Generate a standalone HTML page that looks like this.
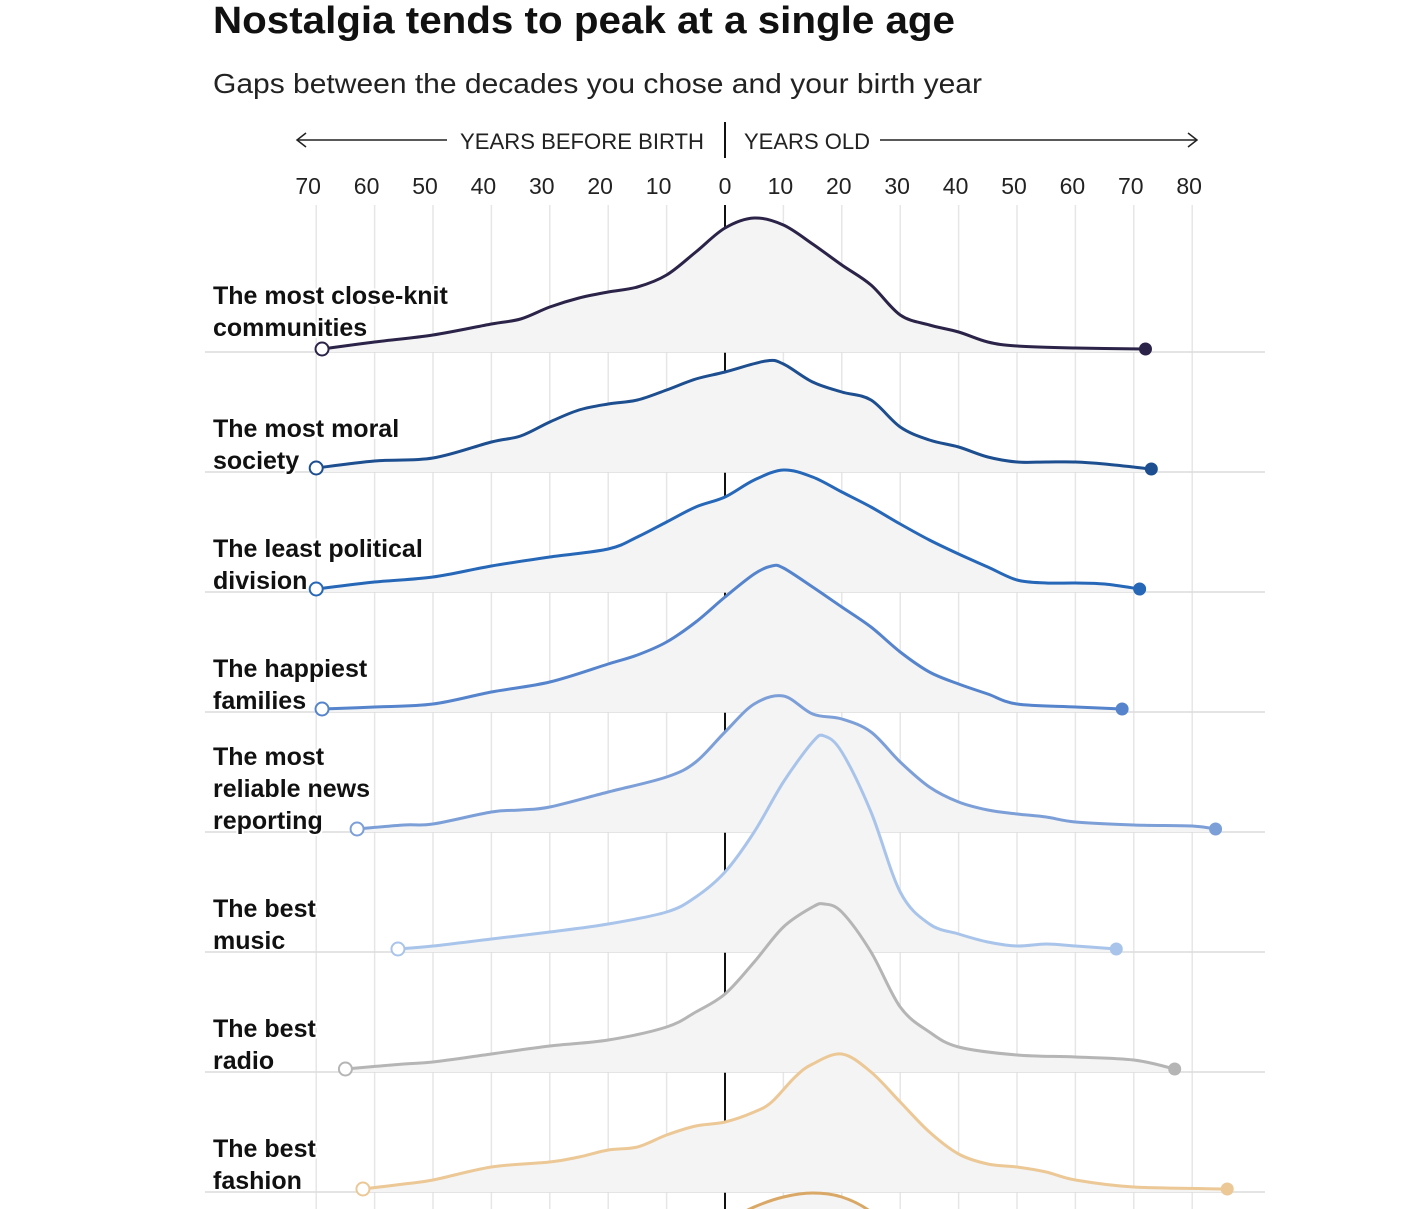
<!DOCTYPE html>
<html><head><meta charset="utf-8">
<style>
html,body{margin:0;padding:0;background:#fff;overflow:hidden;}
body{width:1417px;height:1209px;overflow:hidden;position:relative;font-family:"Liberation Sans",sans-serif;}
svg{overflow:hidden;display:block;}
</style></head>
<body>
<svg id="chart" width="1417" height="1209" xmlns="http://www.w3.org/2000/svg" style="position:absolute;left:0;top:0">
<text x="213" y="33" font-family="Liberation Sans, sans-serif" font-weight="bold" font-size="38" fill="#111" textLength="742" lengthAdjust="spacingAndGlyphs">Nostalgia tends to peak at a single age</text>
<text x="213" y="93" font-family="Liberation Sans, sans-serif" font-size="28" fill="#222" textLength="769" lengthAdjust="spacingAndGlyphs">Gaps between the decades you chose and your birth year</text>
<g id="grid"></g>
<g id="header"></g>
<g id="series"></g>
<g id="labels"></g>
</svg>
<script>
const tickValues = [-70,-60,-50,-40,-30,-20,-10,0,10,20,30,40,50,60,70,80];
const tickLabels = ["70","60","50","40","30","20","10","0","10","20","30","40","50","60","70","80"];
const rowLabels = [
 ["The most close-knit","communities"],
 ["The most moral","society"],
 ["The least political","division"],
 ["The happiest","families"],
 ["The most","reliable news","reporting"],
 ["The best","music"],
 ["The best","radio"],
 ["The best","fashion"],
 [""]
];
const colors = ["#2c2348","#1d4e8f","#2667b8","#5584cc","#7d9fd8","#a9c4ea","#b5b5b5","#ecc896","#d9a866"];
const xs1=[-69,-60,-50,-40,-35,-30,-25,-20,-15,-10,-5,0,5,10,15,20,25,30,35,40,45,50,60,72];
const ys1=[3,10,17,28,33,45,54,60,65,77,100,124,134,127,108,87,67,37,27,20,10,6,4,3];
const xs2=[-70,-60,-50,-40,-35,-30,-25,-20,-15,-10,-5,0,7,10,15,20,25,30,35,40,45,50,55,60,65,73];
const ys2=[4,11,14,30,36,50,62,68,72,82,93,100,111,108,90,80,72,45,32,25,15,10,10,10,8,3];
const xs3=[-70,-60,-50,-40,-30,-20,-15,-10,-5,0,5,10,15,20,25,30,35,40,45,50,55,60,65,71];
const ys3=[3,10,15,26,35,43,55,70,85,95,112,122,115,100,85,68,52,38,25,12,9,9,8,3];
const xs4=[-69,-60,-50,-40,-30,-20,-15,-10,-5,0,5,8,10,15,20,25,30,35,40,45,50,60,68];
const ys4=[3,5,8,20,30,48,57,70,90,115,138,146,144,125,105,85,60,40,28,18,8,5,3];
const xs5=[-63,-55,-50,-40,-35,-30,-20,-10,-5,0,5,10,15,20,25,30,35,40,45,50,55,60,70,80,84];
const ys5=[3,7,8,20,22,25,40,55,70,100,128,136,118,113,100,70,45,30,22,18,15,10,7,6,3];
const xs6=[-56,-50,-40,-30,-20,-10,-5,0,5,10,15,17,20,25,30,35,40,45,50,55,60,67];
const ys6=[3,6,13,20,28,40,55,80,120,170,210,216,200,140,60,28,18,10,6,8,6,3];
const xs7=[-65,-55,-50,-40,-30,-20,-10,-5,0,5,10,15,17,20,25,30,35,40,50,60,70,77];
const ys7=[3,8,10,18,26,32,45,60,78,110,145,165,168,160,120,65,40,25,17,15,12,3];
const xs8=[-62,-55,-50,-40,-30,-25,-20,-15,-10,-5,0,5,8,12,15,20,25,30,35,40,45,50,55,60,70,86];
const ys8=[3,8,12,25,30,35,42,45,57,66,70,80,90,115,128,138,120,90,60,38,28,25,20,12,5,3];
const xs9=[-30,-10,0,5,10,15,20,25,30,50];
const ys9=[20,60,90,105,115,119,115,100,70,10];
const seriesX=[xs1,xs2,xs3,xs4,xs5,xs6,xs7,xs8,xs9];
const seriesY=[ys1,ys2,ys3,ys4,ys5,ys6,ys7,ys8,ys9];

const X0=725, PX=5.84, ROW0=352, ROWGAP=120;
function xScale(v){return X0+v*PX;}
function yScale(row,v){return ROW0+row*ROWGAP-v;}
const NS="http://www.w3.org/2000/svg";
function mk(tag,attrs,parent){const e=document.createElementNS(NS,tag);for(const k in attrs)e.setAttribute(k,attrs[k]);parent.appendChild(e);return e;}
function curve(pts){
 let d="M"+pts[0][0]+","+pts[0][1];
 for(let i=0;i<pts.length-1;i++){
  const p0=pts[Math.max(0,i-1)],p1=pts[i],p2=pts[i+1],p3=pts[Math.min(pts.length-1,i+2)];
  const c1=[p1[0]+(p2[0]-p0[0])/6,p1[1]+(p2[1]-p0[1])/6];
  const c2=[p2[0]-(p3[0]-p1[0])/6,p2[1]-(p3[1]-p1[1])/6];
  d+=" C"+c1[0]+","+c1[1]+" "+c2[0]+","+c2[1]+" "+p2[0]+","+p2[1];
 }
 return d;
}
const grid=document.getElementById('grid');
tickValues.forEach((t,i)=>{
 const gl=mk('line',{x1:xScale(t),x2:xScale(t),y1:205,y2:1209,stroke:t===0?"#111":"#e6e6e6","stroke-width":t===0?2:1.5},grid);
 
 
 const tx=mk('text',{x:xScale(t)-(t<0?8:t>0?3:0),y:194,"text-anchor":"middle","font-size":23,fill:"#222","font-family":"Liberation Sans, sans-serif"},grid);
 tx.textContent=tickLabels[i];
 
 
});
for(let r=0;r<8;r++){
 const bl=mk('line',{x1:205,x2:1265,y1:yScale(r,0),y2:yScale(r,0),stroke:"#dcdcdc","stroke-width":1.5},grid);
 
 
}
const hdr=document.getElementById('header');
mk('line',{x1:725,x2:725,y1:122,y2:158,stroke:"#111","stroke-width":2},hdr);
mk('line',{x1:297,x2:447,y1:140,y2:140,stroke:"#222","stroke-width":1.5},hdr);
mk('path',{d:"M306,133 L297,140 L306,147",fill:"none",stroke:"#222","stroke-width":1.5},hdr);
mk('line',{x1:880,x2:1197,y1:140,y2:140,stroke:"#222","stroke-width":1.5},hdr);
mk('path',{d:"M1188,133 L1197,140 L1188,147",fill:"none",stroke:"#222","stroke-width":1.5},hdr);
let h1=mk('text',{x:704,y:149,"text-anchor":"end","font-size":22.5,fill:"#222",textLength:244,lengthAdjust:"spacingAndGlyphs"},hdr);h1.textContent="YEARS BEFORE BIRTH";


let h2=mk('text',{x:744,y:149,"font-size":22.5,fill:"#222",textLength:126,lengthAdjust:"spacingAndGlyphs"},hdr);h2.textContent="YEARS OLD";



const sg=document.getElementById('series');
for(let r=0;r<seriesX.length;r++){
 const pts=seriesX[r].map((x,i)=>[xScale(x),yScale(r,seriesY[r][i])]);
 const d=curve(pts);
 const g=mk('g',{},sg);
 
 
 const b=Math.min(yScale(r,0),1209);
 const area=mk('path',{d:d+" L"+pts[pts.length-1][0]+","+b+" L"+pts[0][0]+","+b+" Z",fill:"#f4f4f4"},g);
 
 
 const line=mk('path',{d:d,fill:"none",stroke:colors[r],"stroke-width":3},g);
 
 
 if(r<8){
  const s=mk('circle',{cx:pts[0][0],cy:pts[0][1],r:6.5,fill:"#fff",stroke:colors[r],"stroke-width":2},g);
  
  
  const e=mk('circle',{cx:pts[pts.length-1][0],cy:pts[pts.length-1][1],r:6.5,fill:colors[r]},g);
  
  
 }
}
const lg=document.getElementById('labels');
rowLabels.forEach((lines,r)=>{
 if(!lines[0])return;
 const lastBase=yScale(r,0)-(r===0?16:3);
 lines.forEach((ln,i)=>{
  const t=mk('text',{x:213,y:lastBase-(lines.length-1-i)*32,"font-size":25,"font-weight":"bold",fill:"#111",stroke:"#fff","stroke-width":4,"paint-order":"stroke","stroke-linejoin":"round"},lg);
  t.textContent=ln;
  
  
 });
});
</script>
</body></html>
